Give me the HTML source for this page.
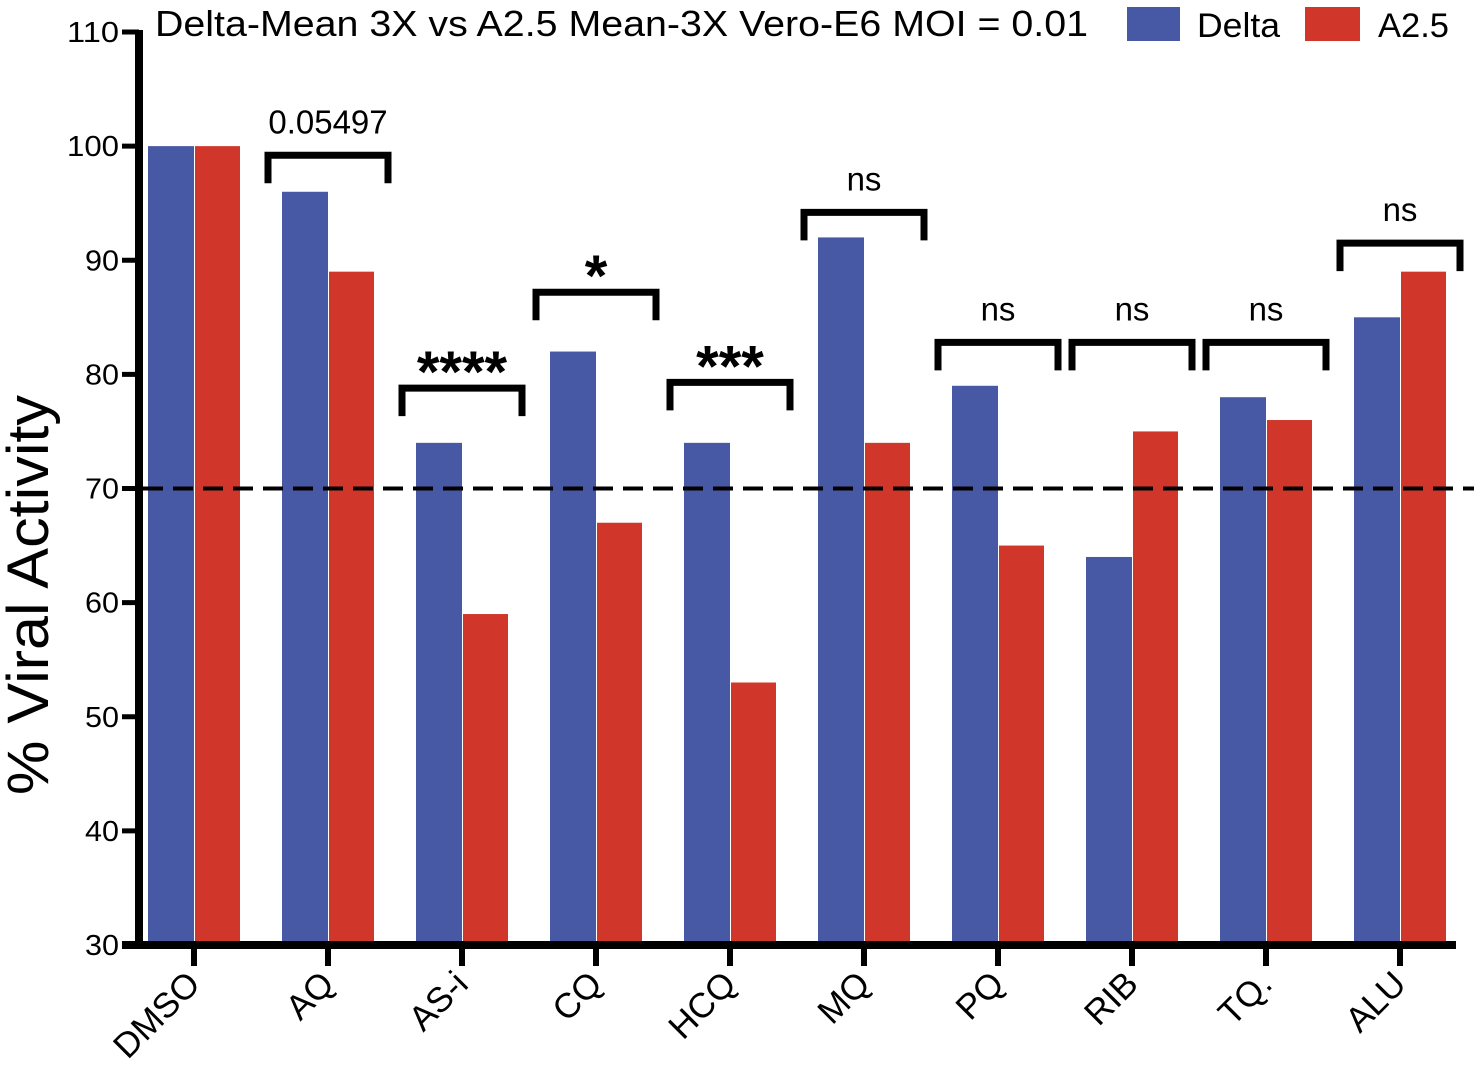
<!DOCTYPE html>
<html><head><meta charset="utf-8"><style>
html,body{margin:0;padding:0;background:#fff;}
svg{display:block;font-family:"Liberation Sans",sans-serif;}
</style></head><body>
<svg id="chart" width="1474" height="1066" viewBox="0 0 1474 1066" xmlns="http://www.w3.org/2000/svg">
<text x="155" y="36" font-size="36" textLength="933" lengthAdjust="spacingAndGlyphs">Delta-Mean 3X vs A2.5 Mean-3X Vero-E6 MOI = 0.01</text>
<g>
<rect x="1127" y="7" width="53" height="34" fill="#4758A5"/>
<text x="1197" y="37" font-size="34" textLength="83" lengthAdjust="spacingAndGlyphs">Delta</text>
<rect x="1305" y="7" width="55" height="34" fill="#D0372A"/>
<text x="1378" y="37" font-size="34" textLength="71" lengthAdjust="spacingAndGlyphs">A2.5</text>
</g>
<text transform="translate(48,595) rotate(-90)" text-anchor="middle" font-size="58" textLength="400" lengthAdjust="spacingAndGlyphs">% Viral Activity</text>
<g id="bars"></g>
<g id="axes"></g>
<g id="sig"></g>
</svg>
<script>
const categories = ["DMSO","AQ","AS-i","CQ","HCQ","MQ","PQ","RIB","TQ.","ALU"];
const deltaValues = [100,96,74,82,74,92,79,64,78,85];
const a25Values = [100,89,59,67,53,74,65,75,76,89];
const yTicks = [30,40,50,60,70,80,90,100,110];
const sigLabels = ["","0.05497","****","*","***","ns","ns","ns","ns","ns"];
const sigLevels = [null,99.2,78.8,87.2,79.3,94.2,82.8,82.8,82.8,91.5];
const thresholdValue = 70;

const NS="http://www.w3.org/2000/svg";
const y = v => 945 - (v-30)*(913/80);
const xc = i => 194 + i*134;
function mk(tag, attrs, parent){const e=document.createElementNS(NS,tag);for(const k in attrs)e.setAttribute(k,attrs[k]);parent.appendChild(e);return e;}
const bars=document.getElementById('bars'), axes=document.getElementById('axes'), sig=document.getElementById('sig');

categories.forEach((c,i)=>{
  const b1=mk('rect',{x:xc(i)-46,y:y(deltaValues[i]),width:46,height:945-y(deltaValues[i]),fill:'#4758A5'},bars);
  
  
  const b2=mk('rect',{x:xc(i)+1,y:y(a25Values[i]),width:45,height:945-y(a25Values[i]),fill:'#D0372A'},bars);
  
  
});

const th=mk('line',{x1:143,x2:1474,y1:y(thresholdValue),y2:y(thresholdValue),stroke:'#000','stroke-width':4,'stroke-dasharray':'20 10'},axes);


const ya=mk('line',{x1:139,x2:139,y1:30,y2:949,stroke:'#000','stroke-width':8},axes);


const xa=mk('line',{x1:122,x2:1456,y1:945,y2:945,stroke:'#000','stroke-width':8},axes);


yTicks.forEach(t=>{
  const l=mk('line',{x1:122,x2:139,y1:y(t),y2:y(t),stroke:'#000','stroke-width':5},axes);
  
  
  const tx=mk('text',{x:119,y:y(t)+10,'text-anchor':'end','font-size':29,textLength:t>=100?52:34,lengthAdjust:'spacingAndGlyphs'},axes);
  tx.textContent=t;
  
  
});
categories.forEach((c,i)=>{
  const l=mk('line',{x1:xc(i),x2:xc(i),y1:945,y2:966,stroke:'#000','stroke-width':6},axes);
  
  
  const tx=mk('text',{transform:`translate(${xc(i)+8},${986}) rotate(-45)`,'text-anchor':'end','font-size':35},axes);
  tx.textContent=c;
  
  
});
categories.forEach((c,i)=>{
  if(sigLevels[i]===null) return;
  const yy=y(sigLevels[i]);
  const x1=xc(i)-60, x2=xc(i)+60;
  const p=mk('path',{d:`M${x1},${yy+28} V${yy} H${x2} V${yy+28}`,fill:'none',stroke:'#000','stroke-width':7,'stroke-linejoin':'miter'},sig);
  
  
  const star=sigLabels[i].startsWith('*');
  const tx=mk('text',{x:xc(i),y:star?yy+4:yy-22,'text-anchor':'middle','font-size':star?58:33,'font-weight':star?'bold':'normal'},sig);
  tx.textContent=sigLabels[i];
  
  
});
</script>
</body></html>
